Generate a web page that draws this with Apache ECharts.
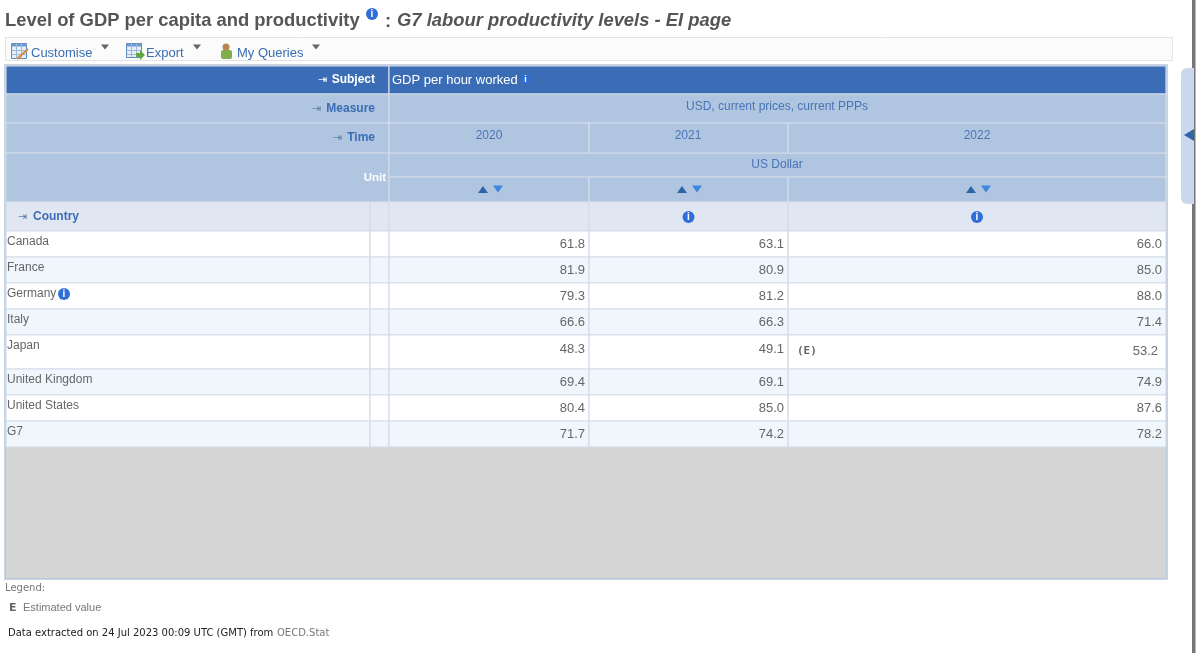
<!DOCTYPE html>
<html>
<head>
<meta charset="utf-8">
<style>html,body{margin:0;padding:0;background:#fff}#main{width:1200px;height:653px}</style>
<script src="https://cdn.jsdelivr.net/npm/echarts@6/dist/echarts.min.js"></script>
</head>
<body>
<div id="main"></div>
<script>
// table content
var countries = ['Canada', 'France', 'Germany', 'Italy', 'Japan', 'United Kingdom', 'United States', 'G7'];
var years = ['2020', '2021', '2022'];
var values2020 = [61.8, 81.9, 79.3, 66.6, 48.3, 69.4, 80.4, 71.7];
var values2021 = [63.1, 80.9, 81.2, 66.3, 49.1, 69.1, 85.0, 74.2];
var values2022 = [66.0, 85.0, 88.0, 71.4, 53.2, 74.9, 87.6, 78.2];
var yearValues = [values2020, values2021, values2022];

// layout of the table, in axis units (the axes run over the whole page)
var colEdges = [6, 370, 389, 589, 788, 1166];
var headEdges = [66, 94, 123, 153, 177, 202, 231];
var rowEdges = [231, 257, 283, 309, 335, 369, 395, 421, 447];

var FONT = '"Liberation Sans", Arial, sans-serif';
var WIDE = '"DejaVu Sans", Verdana, sans-serif';
var BLUE = '#3a6db5', SOFT = '#4874b6', HEAD = '#b0c5e0', LINE = '#d3dce9', TXT = '#666';

// cell = [x0, x1, y0, y1, fill]
var cells = [];
function addCell(x0, x1, y0, y1, fill) { cells.push([x0, x1, y0, y1, fill]); }
addCell(colEdges[0], colEdges[2], headEdges[0], headEdges[1], BLUE);
addCell(colEdges[2], colEdges[5], headEdges[0], headEdges[1], BLUE);
addCell(colEdges[0], colEdges[2], headEdges[1], headEdges[2], HEAD);
addCell(colEdges[2], colEdges[5], headEdges[1], headEdges[2], HEAD);
addCell(colEdges[0], colEdges[2], headEdges[2], headEdges[3], HEAD);
addCell(colEdges[0], colEdges[2], headEdges[3], headEdges[5], HEAD);
addCell(colEdges[2], colEdges[5], headEdges[3], headEdges[4], HEAD);
for (var c = 2; c < 5; c++) {
    addCell(colEdges[c], colEdges[c + 1], headEdges[2], headEdges[3], HEAD);
    addCell(colEdges[c], colEdges[c + 1], headEdges[4], headEdges[5], HEAD);
}
for (var c2 = 0; c2 < 5; c2++) {
    addCell(colEdges[c2], colEdges[c2 + 1], headEdges[5], headEdges[6], '#e0e7f3');
}
countries.forEach(function (name, i) {
    for (var k = 0; k < 5; k++) {
        addCell(colEdges[k], colEdges[k + 1], rowEdges[i], rowEdges[i + 1], i % 2 ? '#eff6fc' : '#fff');
    }
});

var renderCell = function (params, api) {
    var a = api.coord([api.value(0), api.value(2)]);
    var b = api.coord([api.value(1), api.value(3)]);
    return {
        type: 'rect',
        shape: { x: a[0], y: a[1], width: b[0] - a[0], height: b[1] - a[1] },
        style: { fill: cells[params.dataIndex][4], stroke: LINE, lineWidth: 1.2 }
    };
};

// value labels, [column, row, value]
var valueData = [];
yearValues.forEach(function (vals, c) {
    vals.forEach(function (v, r) { valueData.push([c, r, v]); });
});
var renderValue = function (params, api) {
    var c = api.value(0), r = api.value(1);
    var japan2022 = countries[r] === 'Japan' && c === 2;
    var tall = countries[r] === 'Japan';
    var right = colEdges[c + 3] - (japan2022 ? 8 : 4);
    var y = rowEdges[r] + (tall ? (japan2022 ? 16 : 14) : 13.5);
    var p = api.coord([right, y]);
    return {
        type: 'text',
        style: {
            x: p[0], y: p[1], text: api.value(2).toFixed(1), align: 'right', verticalAlign: 'middle',
            font: '13px ' + FONT, fill: TXT
        }
    };
};

// country names, [row]
var renderCountry = function (params, api) {
    var r = api.value(0);
    var p = api.coord([7, rowEdges[r] + 11]);
    return {
        type: 'text',
        style: {
            x: p[0], y: p[1], text: countries[r], align: 'left', verticalAlign: 'middle',
            font: '12px ' + FONT, fill: TXT
        }
    };
};

function txt(x, y, text, font, fill, align) {
    return { type: 'text', x: x, y: y, silent: true, style: { text: text, font: font, fill: fill, align: align || 'left', verticalAlign: 'middle' } };
}
function info(x, y, r) {
    return [
        { type: 'circle', shape: { cx: x, cy: y, r: r }, style: { fill: '#2f6fd6' } },
        txt(x, y + 0.5, 'i', 'bold ' + Math.round(r * 1.7) + 'px ' + FONT, '#fff', 'center')
    ];
}
function tri(x, y, w, h, fill) {
    // h > 0 points down, h < 0 points up
    return { type: 'polygon', shape: { points: [[x - w / 2, y - h / 2], [x + w / 2, y - h / 2], [x, y + h / 2]] }, style: { fill: fill } };
}
function gridIcon(x, y, w, h) {
    return [
        { type: 'rect', shape: { x: x, y: y, width: w, height: h }, style: { fill: '#e6eef8', stroke: '#5b86b8', lineWidth: 1 } },
        { type: 'rect', shape: { x: x, y: y, width: w, height: 3 }, style: { fill: '#6f9bd0' } },
        { type: 'line', shape: { x1: x, y1: y + 7, x2: x + w, y2: y + 7 }, style: { stroke: '#9db8d8', lineWidth: 1 } },
        { type: 'line', shape: { x1: x, y1: y + 11, x2: x + w, y2: y + 11 }, style: { stroke: '#9db8d8', lineWidth: 1 } },
        { type: 'line', shape: { x1: x + 5, y1: y, x2: x + 5, y2: y + h }, style: { stroke: '#9db8d8', lineWidth: 1 } },
        { type: 'line', shape: { x1: x + 10, y1: y, x2: x + 10, y2: y + h }, style: { stroke: '#9db8d8', lineWidth: 1 } }
    ];
}

var chrome = [];
// page chrome
chrome.push({ type: 'rect', shape: { x: 1192, y: 0, width: 3.5, height: 653 }, style: { fill: '#777' } });
chrome.push({ type: 'rect', shape: { x: 1181, y: 68, width: 13, height: 136, r: [6, 0, 0, 6] }, style: { fill: '#cad7ee' } });
chrome.push({ type: 'polygon', shape: { points: [[1184, 135], [1194, 129], [1194, 141]] }, style: { fill: '#2f64a6' } });
// title
chrome.push(txt(5, 21, 'Level of GDP per capita and productivity', 'bold 18.4px ' + FONT, '#555'));
chrome = chrome.concat(info(372, 14, 6));
chrome.push(txt(385, 22, ':', 'bold 18.4px ' + FONT, '#555'));
chrome.push(txt(397, 21, 'G7 labour productivity levels - EI page', 'italic bold 18.4px ' + FONT, '#555'));
// toolbar
chrome.push({ type: 'rect', shape: { x: 5.5, y: 37.5, width: 1167, height: 23 }, style: { fill: '#fbfbfb', stroke: '#e4e4e4', lineWidth: 1 } });
chrome = chrome.concat(gridIcon(11.5, 43.5, 15, 15));
chrome.push({ type: 'line', shape: { x1: 17, y1: 59, x2: 28, y2: 49 }, style: { stroke: '#d98a3c', lineWidth: 2 } });
chrome.push(txt(31, 53, 'Customise', '13px ' + FONT, BLUE));
chrome.push(tri(105, 47, 8, 5, '#666'));
chrome = chrome.concat(gridIcon(126.5, 43.5, 15, 14));
chrome.push({ type: 'polygon', shape: { points: [[136, 53], [140, 53], [140, 50], [145, 55], [140, 60], [140, 57], [136, 57]] }, style: { fill: '#62a83e' } });
chrome.push(txt(146, 53, 'Export', '13px ' + FONT, BLUE));
chrome.push(tri(197, 47, 8, 5, '#666'));
chrome.push({ type: 'circle', shape: { cx: 226, cy: 47, r: 3.5 }, style: { fill: '#b98552' } });
chrome.push({ type: 'rect', shape: { x: 221, y: 50, width: 11, height: 9, r: 2 }, style: { fill: '#7fae4b' } });
chrome.push(txt(237, 53, 'My Queries', '13px ' + FONT, BLUE));
chrome.push(tri(316, 47, 8, 5, '#666'));
// table frame and empty grey area
chrome.push({ type: 'rect', shape: { x: 5, y: 65, width: 1162, height: 514 }, style: { fill: '#d4d4d4', stroke: '#b4c6dc', lineWidth: 1.5 } });

// texts on top of the cells
var overlay = [];
overlay.push(txt(375, 80, 'Subject', 'bold 12px ' + FONT, '#fff', 'right'));
overlay.push(txt(327, 80, '⇥', '11px ' + WIDE, '#fff', 'right'));
overlay.push(txt(375, 109, 'Measure', 'bold 12px ' + FONT, BLUE, 'right'));
overlay.push(txt(321, 109, '⇥', '11px ' + WIDE, '#5f7fa8', 'right'));
overlay.push(txt(375, 138, 'Time', 'bold 12px ' + FONT, BLUE, 'right'));
overlay.push(txt(342, 138, '⇥', '11px ' + WIDE, '#5f7fa8', 'right'));
overlay.push(txt(386, 177.5, 'Unit', 'bold 11.5px ' + FONT, '#fff', 'right'));
overlay.push(txt(392, 80, 'GDP per hour worked', '13px ' + FONT, '#fff'));
overlay.push({ type: 'rect', shape: { x: 522, y: 75, width: 7, height: 8 }, style: { fill: '#2f6fd6' } });
overlay.push(txt(525.5, 79.5, 'i', 'bold 9px ' + FONT, '#fff', 'center'));
overlay.push(txt(777, 107, 'USD, current prices, current PPPs', '12px ' + FONT, SOFT, 'center'));
overlay.push(txt(777, 165, 'US Dollar', '12px ' + FONT, SOFT, 'center'));
var yearCenters = [489, 688, 977];
years.forEach(function (y, i) {
    overlay.push(txt(yearCenters[i], 136, y, '12px ' + FONT, SOFT, 'center'));
    overlay.push(tri(yearCenters[i] - 6, 189.5, 10, -7, '#2f64a6'));
    overlay.push(tri(yearCenters[i] + 9, 189, 10, 7, '#3f86e0'));
});
overlay = overlay.concat(info(688.5, 217, 6), info(977, 217, 6), info(64, 294, 6));
overlay.push(txt(33, 217, 'Country', 'bold 12px ' + FONT, BLUE));
overlay.push(txt(27, 217, '⇥', '11px ' + WIDE, '#5f7fa8', 'right'));
overlay.push(txt(797, 351, '(E)', 'bold 11px "DejaVu Sans Mono", monospace', '#666'));
// legend and source
overlay.push(txt(5, 588, 'Legend:', '10px ' + WIDE, '#777'));
overlay.push(txt(9, 608, 'E', 'bold 11px ' + WIDE, '#666'));
overlay.push(txt(23, 608, 'Estimated value', '11px ' + FONT, '#777'));
overlay.push(txt(8, 633, 'Data extracted on 24 Jul 2023 00:09 UTC (GMT) from', '10px ' + WIDE, '#222'));
overlay.push(txt(277, 633, 'OECD.Stat', '10px ' + WIDE, '#777'));
overlay.forEach(function (el) { el.z = 100; });

var myChart = echarts.init(document.getElementById('main'), null, { renderer: 'canvas' });
var option = {
    animation: false,
    backgroundColor: '#fff',
    grid: { left: 0, right: 0, top: 0, bottom: 0 },
    xAxis: { type: 'value', min: 0, max: 1200, show: false },
    yAxis: { type: 'value', min: 0, max: 653, inverse: true, show: false },
    graphic: [
        { type: 'group', children: chrome },
        { type: 'group', children: overlay }
    ],
    series: [
        { name: 'cells', type: 'custom', z: 5, silent: true, renderItem: renderCell, data: cells.map(function (c) { return c.slice(0, 4); }), clip: false },
        { name: 'countries', type: 'custom', z: 6, silent: true, renderItem: renderCountry, data: countries.map(function (n, i) { return [i]; }), clip: false },
        { name: 'values', type: 'custom', z: 6, silent: true, renderItem: renderValue, data: valueData, clip: false }
    ]
};
myChart.setOption(option);
</script>
</body>
</html>
